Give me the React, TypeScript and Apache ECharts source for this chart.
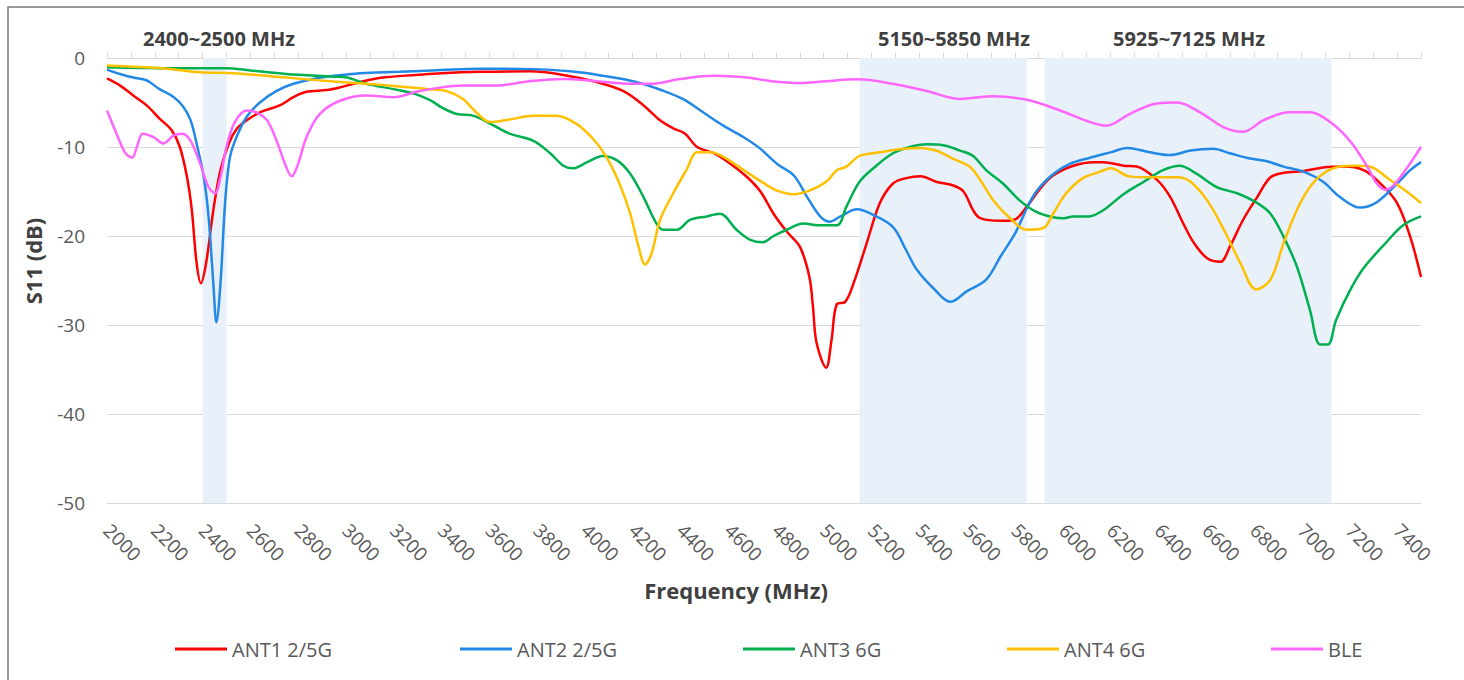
import React, { useEffect, useRef } from "react";
import * as echarts from "echarts";

const FONT = '"Open Sans", "Noto Sans", sans-serif';

const seriesNames = ["ANT1 2/5G", "ANT2 2/5G", "ANT3 6G", "ANT4 6G", "BLE"];
const seriesColors = ["#ff0000", "#2389e6", "#00b050", "#ffc000", "#ff66ff"];

const ant1: number[][] = [
  [2000, -2.3], [2055, -3.1], [2110, -4.2], [2165, -5.3], [2220, -6.8], [2270, -8.1], [2305, -10],
  [2335, -13.4], [2355, -17.1], [2375, -23], [2393, -25.3], [2415, -23], [2445, -17.1], [2475, -12.6],
  [2510, -9.6], [2545, -7.9], [2585, -7.0], [2640, -6.1], [2725, -5.3], [2780, -4.4], [2835, -3.8],
  [2920, -3.6], [2975, -3.3], [3060, -2.7], [3155, -2.2], [3295, -1.9], [3400, -1.7], [3560, -1.55],
  [3770, -1.5], [3910, -1.9], [4050, -2.7], [4160, -3.7], [4245, -5.3], [4315, -7.0], [4370, -7.9],
  [4420, -8.5], [4470, -10], [4540, -10.7], [4610, -11.9], [4680, -13.4], [4735, -15], [4790, -17.5],
  [4845, -19.5], [4900, -21.2], [4940, -24.6], [4955, -28], [4970, -32], [5010, -34.8], [5033, -31.6],
  [5054, -27.7], [5090, -27.4], [5125, -25.3], [5180, -20.8], [5235, -16.3], [5290, -14.1], [5345, -13.5],
  [5405, -13.3], [5470, -13.9], [5540, -14.3], [5585, -15], [5625, -17.1], [5655, -18], [5740, -18.3],
  [5795, -18.2], [5850, -16.7], [5905, -14.7], [5960, -13.2], [6045, -12.1], [6130, -11.7], [6170, -11.7],
  [6255, -12.1], [6310, -12.2], [6395, -13.7], [6450, -15.6], [6505, -18.6], [6550, -20.8], [6605, -22.5],
  [6660, -22.9], [6700, -21.2], [6755, -18.2], [6815, -15.6], [6870, -13.4], [6925, -12.9], [7010, -12.7],
  [7090, -12.3], [7175, -12.2], [7260, -12.6], [7330, -14.1], [7400, -16.3], [7455, -20.1], [7500, -24.6],
];

const ant2: number[][] = [
  [2000, -1.3], [2055, -1.8], [2110, -2.2], [2165, -2.5], [2220, -3.5], [2280, -4.4], [2320, -5.5],
  [2350, -7.0], [2375, -9.6], [2405, -13.4], [2425, -17.8], [2445, -25.3], [2458, -29.7], [2475, -25.3],
  [2495, -16], [2515, -11.1], [2545, -8.7], [2585, -6.6], [2640, -5.0], [2710, -3.7], [2780, -2.9],
  [2865, -2.35], [2950, -2.0], [3060, -1.7], [3225, -1.55], [3400, -1.35], [3560, -1.2], [3770, -1.25],
  [3940, -1.5], [4075, -2.0], [4215, -2.7], [4330, -3.7], [4410, -4.6], [4495, -6.1], [4580, -7.6],
  [4665, -8.9], [4730, -10.1], [4805, -11.9], [4875, -13.2], [4930, -15.6], [4985, -17.8], [5025, -18.4],
  [5070, -17.8], [5140, -17.0], [5205, -17.6], [5290, -19], [5345, -21.6], [5390, -23.8], [5460, -25.9],
  [5530, -27.4], [5600, -26.2], [5680, -24.9], [5740, -22.3], [5805, -19.5], [5875, -15.6], [5945, -13.4],
  [6030, -11.9], [6115, -11.2], [6200, -10.6], [6270, -10.1], [6365, -10.6], [6450, -10.9], [6535, -10.4],
  [6630, -10.2], [6700, -10.7], [6785, -11.3], [6855, -11.6], [6925, -12.2], [7010, -12.8], [7090, -13.9],
  [7160, -15.6], [7245, -16.8], [7315, -16.2], [7400, -14.1], [7455, -12.6], [7500, -11.7],
];

const ant3: number[][] = [
  [2000, -1.05], [2250, -1.15], [2500, -1.15], [2600, -1.4], [2750, -1.8], [2950, -2.1], [3005, -2.2],
  [3085, -2.9], [3200, -3.5], [3285, -4.0], [3350, -4.7], [3410, -5.7], [3465, -6.3], [3535, -6.5],
  [3605, -7.4], [3685, -8.5], [3785, -9.3], [3855, -10.7], [3910, -12.1], [3950, -12.4], [4010, -11.7],
  [4075, -11.0], [4135, -11.5], [4190, -13.0], [4245, -15.6], [4300, -18.6], [4330, -19.3], [4385, -19.3],
  [4440, -18.2], [4510, -17.8], [4565, -17.5], [4635, -19.3], [4690, -20.4], [4745, -20.7], [4790, -20],
  [4845, -19.3], [4915, -18.6], [4985, -18.8], [5055, -18.8], [5095, -16.7], [5150, -13.9], [5220, -12.1],
  [5290, -10.7], [5360, -10], [5430, -9.7], [5500, -9.8], [5570, -10.4], [5625, -11.0], [5680, -12.6],
  [5750, -14.1], [5820, -16], [5890, -17.3], [5960, -17.9], [6005, -18.0], [6045, -17.8], [6110, -17.8],
  [6170, -17.1], [6255, -15.3], [6340, -13.9], [6420, -12.6], [6490, -12.1], [6560, -13.0], [6645, -14.5],
  [6730, -15.2], [6815, -16.3], [6870, -17.5], [6925, -20.1], [6980, -23.4], [7035, -28.3], [7078, -32.2],
  [7110, -32.2], [7145, -29.4], [7205, -26.0], [7260, -23.6], [7345, -21.0], [7425, -18.8], [7500, -17.8],
];

const ant4: number[][] = [
  [2000, -0.85], [2250, -1.2], [2390, -1.6], [2530, -1.7], [2750, -2.2], [2950, -2.65], [3085, -2.9],
  [3225, -3.2], [3350, -3.5], [3420, -3.7], [3490, -4.6], [3545, -6.1], [3605, -7.2], [3685, -6.9],
  [3785, -6.5], [3880, -6.5], [3965, -7.4], [4035, -9.1], [4090, -11.1], [4145, -14.1], [4190, -17.5],
  [4225, -21.2], [4252, -23.2], [4280, -21.9], [4315, -18.2], [4370, -15.2], [4425, -12.6], [4470, -10.6],
  [4525, -10.6], [4580, -11.1], [4665, -12.6], [4745, -14], [4805, -14.9], [4875, -15.3], [4940, -14.9],
  [5010, -13.9], [5055, -12.6], [5095, -12.2], [5150, -11.0], [5235, -10.6], [5335, -10.2], [5405, -10.1],
  [5470, -10.4], [5540, -11.3], [5610, -12.2], [5655, -13.7], [5710, -16], [5780, -18.0], [5850, -19.3],
  [5920, -19.1], [5960, -17.5], [6015, -15.2], [6085, -13.5], [6155, -12.8], [6200, -12.4], [6280, -13.3],
  [6365, -13.4], [6480, -13.4], [6535, -13.9], [6605, -16], [6675, -19.3], [6745, -23.1], [6810, -26],
  [6870, -24.9], [6925, -20.8], [6980, -17.1], [7035, -14.5], [7090, -13.0], [7160, -12.2], [7230, -12.1],
  [7285, -12.2], [7370, -13.7], [7440, -15.0], [7500, -16.3],
];

const ble: number[][] = [
  [2000, -5.9], [2040, -8.5], [2075, -10.6], [2105, -11.2], [2125, -10], [2150, -8.5], [2195, -8.9],
  [2235, -9.6], [2280, -8.7], [2315, -8.5], [2350, -9.3], [2390, -11.9], [2425, -14.5], [2452, -15.2],
  [2475, -13.4], [2500, -10], [2535, -7.2], [2585, -5.9], [2625, -6.1], [2670, -7.0], [2710, -9.3],
  [2745, -11.9], [2773, -13.3], [2800, -11.9], [2835, -8.9], [2890, -6.3], [2975, -4.8], [3085, -4.2],
  [3200, -4.4], [3295, -3.8], [3400, -3.3], [3490, -3.1], [3630, -3.1], [3770, -2.6], [3910, -2.35],
  [4050, -2.6], [4190, -2.9], [4275, -2.9], [4400, -2.35], [4540, -2.0], [4680, -2.2], [4780, -2.6],
  [4900, -2.8], [5010, -2.6], [5140, -2.4], [5290, -2.9], [5430, -3.7], [5570, -4.6], [5710, -4.3],
  [5850, -4.7], [5990, -5.9], [6115, -7.2], [6185, -7.6], [6280, -6.3], [6395, -5.1], [6480, -5.0],
  [6575, -6.1], [6675, -7.8], [6755, -8.3], [6840, -7.0], [6950, -6.1], [7035, -6.1], [7120, -7.2],
  [7205, -9.4], [7275, -12.2], [7315, -14.1], [7350, -14.8], [7385, -14.3], [7440, -12.4], [7500, -10.0],
];

const seriesData = [ant1, ant2, ant3, ant4, ble];

const bands: number[][] = [
  [2400, 2500],
  [5150, 5850],
  [5925, 7125],
];
const bandLabels = ["2400~2500 MHz", "5150~5850 MHz", "5925~7125 MHz"];
const bandLabelX = [143, 878, 1113];

const legendLefts = [175, 460, 743, 1007, 1271];

const xMin = 2000;
const xMax = 7500;
const xStep = 100;
const yMin = -50;
const yMax = 0;
const yStep = 10;

export default function App() {
  const ref = useRef<HTMLDivElement>(null);

  useEffect(() => {
    if (!ref.current) return;
    const chart = echarts.init(ref.current, undefined, { renderer: "svg" });

    const lineSeries = seriesNames.map((name, i) => ({
      name,
      type: "line",
      data: seriesData[i],
      smooth: 0.35,
      symbol: "none",
      z: 3,
      lineStyle: { color: seriesColors[i], width: 2.5 },
      itemStyle: { color: seriesColors[i] },
    }));

    const option: any = {
      animation: false,
      backgroundColor: "#ffffff",
      textStyle: { fontFamily: FONT },
      grid: { left: 107, right: 43, top: 58, bottom: 177, containLabel: false },
      xAxis: {
        type: "value",
        min: xMin,
        max: xMax,
        interval: xStep,
        axisLine: { show: true, lineStyle: { color: "#d9d9d9", width: 1 } },
        axisTick: { show: true, inside: true, length: 5, lineStyle: { color: "#d9d9d9" } },
        splitLine: { show: false },
        axisLabel: {
          rotate: -45,
          margin: 24,
          fontSize: 19,
          color: "#595959",
          fontFamily: FONT,
          hideOverlap: false,
          showMaxLabel: true,
          formatter: (v: number) => (v % 200 === 0 && v <= 7400 ? String(v) : ""),
        },
      },
      yAxis: {
        type: "value",
        min: yMin,
        max: yMax,
        interval: yStep,
        axisLine: { show: false },
        axisTick: { show: false },
        splitLine: { show: true, lineStyle: { color: "#d9d9d9", width: 1 } },
        axisLabel: { fontSize: 19, color: "#595959", margin: 22, fontFamily: FONT },
      },
      legend: seriesNames.map((n, i) => ({
        data: [n],
        left: legendLefts[i],
        top: 639,
        padding: 0,
        itemWidth: 52,
        itemHeight: 3,
        icon: "rect",
        itemGap: 0,
        selectedMode: false,
        textStyle: { fontSize: 20, color: "#595959", fontFamily: FONT },
      })),
      graphic: [
        {
          type: "rect",
          silent: true,
          z: -10,
          shape: { x: 8, y: 7, width: 1480, height: 700 },
          style: { fill: "none", stroke: "#7a7a7a", lineWidth: 1.5 },
        },
        ...bandLabels.map((t, i) => ({
          type: "text",
          x: bandLabelX[i],
          y: 38,
          silent: true,
          style: {
            text: t,
            font: `bold 20px ${FONT}`,
            fill: "#404040",
            align: "left",
            verticalAlign: "middle",
          },
        })),
        {
          type: "text",
          x: 736,
          y: 590,
          silent: true,
          style: {
            text: "Frequency (MHz)",
            font: `bold 22px ${FONT}`,
            fill: "#404040",
            align: "center",
            verticalAlign: "middle",
          },
        },
        {
          type: "text",
          x: 33,
          y: 261,
          rotation: Math.PI / 2,
          silent: true,
          style: {
            text: "S11 (dB)",
            font: `bold 22px ${FONT}`,
            fill: "#404040",
            align: "center",
            verticalAlign: "middle",
          },
        },
      ],
      series: [
        {
          name: "bands",
          type: "line",
          data: [],
          z: 1,
          silent: true,
          markArea: {
            silent: true,
            itemStyle: { color: "#e8f0f9" },
            data: bands.map((b) => [{ xAxis: b[0] }, { xAxis: b[1] }]),
          },
        },
        ...lineSeries,
      ],
    };

    chart.setOption(option);
    return () => chart.dispose();
  }, []);

  return (
    <div
      ref={ref}
      style={{ position: "absolute", left: 0, top: 0, width: 1464, height: 680 }}
    />
  );
}
